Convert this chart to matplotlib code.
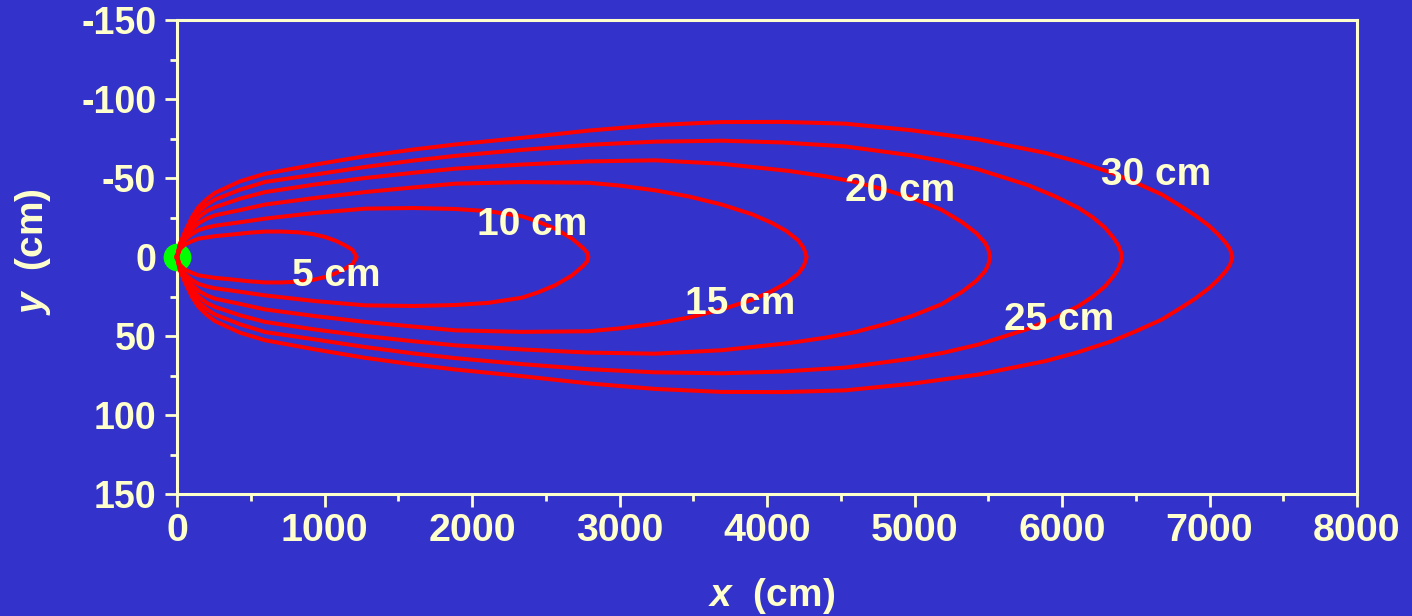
import matplotlib
matplotlib.use("Agg")
import matplotlib.pyplot as plt
import numpy as np
from matplotlib.ticker import MultipleLocator

# ---- data (x in cm, half-width in cm) ----
x_5 = [0, 20, 54, 100, 145, 258, 371, 480, 597, 710, 823, 920, 1003, 1075, 1139, 1190, 1218]
w_5 = [0, 5, 8, 10, 11.6, 13.2, 14.2, 15.3, 16.1, 16.1, 15.6, 14.5, 12.7, 10.3, 7.4, 4.5, 0]

x_10 = [0, 20, 54, 100, 145, 200, 258, 427, 597, 936, 1275, 1600, 1885, 2111, 2337, 2450, 2563, 2676, 2755, 2780, 2789]
w_10 = [0, 6, 11, 14.5, 17, 18.6, 19.8, 22, 24.3, 27.9, 30.6, 31, 30.4, 29, 25.8, 22.3, 17.9, 11.8, 5.5, 2.8, 0]

x_15 = [0, 20, 54, 100, 145, 200, 258, 427, 597, 936, 1275, 1600, 1885, 2337, 2789, 3000, 3241, 3470, 3693, 3900, 4032, 4130, 4212, 4250, 4269]
w_15 = [0, 7, 12.5, 17.5, 21.3, 24.3, 26.4, 29.7, 33.2, 37.4, 41.1, 44, 46.4, 47.4, 47, 45.2, 42.2, 38.3, 33.2, 27, 21.6, 16.5, 10.5, 5.5, 0]

x_20 = [0, 20, 54, 100, 145, 200, 258, 427, 597, 936, 1275, 1600, 1885, 2337, 2789, 3241, 3693, 4145, 4400, 4597, 4800, 4981, 5180, 5320, 5420, 5478, 5500, 5512]
w_20 = [0, 7.5, 14, 20.5, 25, 29, 31.6, 36.9, 41.1, 45.9, 50, 53.3, 55.9, 58.5, 60.5, 61.2, 59, 54.5, 51, 47.5, 42.5, 37.4, 30, 22.2, 15, 9, 5, 0]

x_25 = [0, 20, 54, 100, 145, 200, 258, 427, 597, 936, 1275, 1600, 1885, 2337, 2789, 3241, 3693, 4100, 4529, 4981, 5200, 5433, 5600, 5772, 5950, 6111, 6210, 6292, 6350, 6382, 6400, 6405]
w_25 = [0, 8, 15, 23, 28.5, 33, 36.4, 42.6, 47.5, 52.2, 57, 61, 64, 67.8, 71, 73, 73.6, 72.5, 70, 64.3, 60.5, 55.4, 50.5, 45.4, 38.5, 31.1, 25, 18.5, 12, 7.4, 3, 0]

x_30 = [0, 20, 54, 100, 145, 200, 258, 427, 597, 936, 1275, 1600, 1885, 2337, 2789, 3241, 3693, 4100, 4529, 4981, 5433, 5885, 6100, 6337, 6500, 6676, 6800, 6902, 7000, 7060, 7110, 7139, 7155]
w_30 = [0, 8.5, 16, 25, 31.5, 36.5, 40.6, 47.9, 52.7, 58.5, 63.8, 68, 71.2, 75.4, 80, 83.5, 85.4, 85.5, 84.4, 80.2, 74.4, 65.9, 60.5, 53.3, 47, 39.6, 32.5, 26.4, 19.5, 14.2, 9, 5, 0]

contour_x = [x_5, x_10, x_15, x_20, x_25, x_30]
contour_w = [w_5, w_10, w_15, w_20, w_25, w_30]

label_text = ["5 cm", "10 cm", "15 cm", "20 cm", "25 cm", "30 cm"]
label_x = [1078, 2410, 3817, 4902, 5983, 6637]
label_y = [12, -20.5, 29.7, -41.5, 39.7, -51.6]

x_ticks = [0, 1000, 2000, 3000, 4000, 5000, 6000, 7000, 8000]
y_ticks = [-150, -100, -50, 0, 50, 100, 150]

# ---- style ----
BG = "#3333CC"
FG = "#FFFFCC"
RED = "#FF0000"
GREEN = "#00FF00"

plt.rcParams["font.family"] = ["Liberation Sans", "DejaVu Sans"]
plt.rcParams["axes.unicode_minus"] = False
plt.rcParams["mathtext.fontset"] = "custom"
plt.rcParams["mathtext.it"] = "Liberation Sans:italic:bold"
plt.rcParams["mathtext.rm"] = "Liberation Sans:bold"

fig = plt.figure(figsize=(14.12, 6.16), dpi=100, facecolor=BG)
ax = fig.add_axes([177 / 1412, 1 - 494 / 616, 1180 / 1412, 474 / 616])
ax.set_facecolor(BG)

# source point
ax.plot([0], [0], "o", color=GREEN, ms=20, mec="none", clip_on=False, zorder=3)

for xs, ws in zip(contour_x, contour_w):
    xs = np.asarray(xs, float)
    ws = np.asarray(ws, float)
    px = np.concatenate([xs, xs[::-1]])
    py = np.concatenate([-ws, ws[::-1]])
    ax.plot(px, py, color=RED, lw=2.9, solid_joinstyle="round", zorder=4, clip_on=False)

for t, lx, ly in zip(label_text, label_x, label_y):
    ax.text(lx, ly, t, ha="center", va="center", fontsize=28, fontweight="bold",
            color=FG, zorder=5)

ax.set_xlim(0, 8000)
ax.set_ylim(150, -150)
ax.set_xticks(x_ticks)
ax.set_yticks(y_ticks)
ax.xaxis.set_minor_locator(MultipleLocator(500))
ax.yaxis.set_minor_locator(MultipleLocator(25))

for s in ax.spines.values():
    s.set_color(FG)
    s.set_linewidth(2.2)

ax.tick_params(which="major", direction="out", length=9, width=2, color=FG,
               labelcolor=FG)
ax.tick_params(which="minor", direction="out", length=5, width=2, color=FG)
ax.tick_params(axis="x", which="major", labelsize=28.4, pad=5)
ax.tick_params(axis="y", which="major", labelsize=27, pad=6)
for lab in ax.get_xticklabels() + ax.get_yticklabels():
    lab.set_fontweight("bold")

ax.set_xlabel(r"$x$  (cm)", fontsize=28, fontweight="bold", color=FG)
ax.set_ylabel(r"$y$  (cm)", fontsize=28, fontweight="bold", color=FG)
ax.xaxis.set_label_coords(0.504, -0.215)
ax.xaxis.label.set_va("center")
ax.yaxis.set_label_coords(-0.122, 0.511)
ax.yaxis.label.set_va("center")

fig.savefig("out.png", dpi=100, facecolor=BG)
